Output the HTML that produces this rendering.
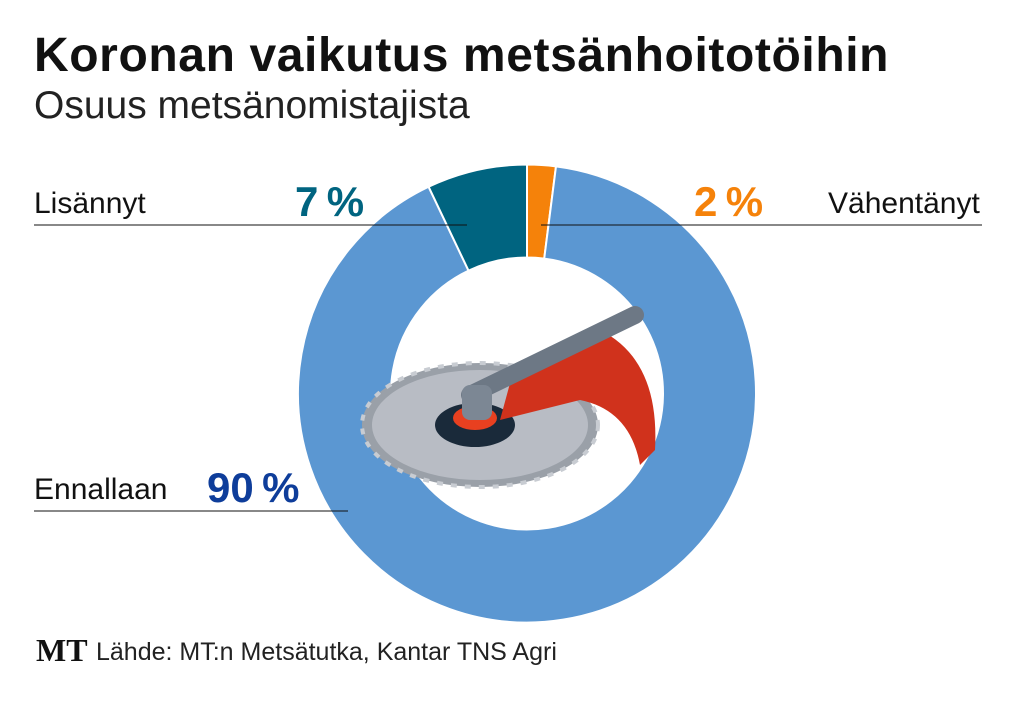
<!DOCTYPE html>
<html><head><meta charset="utf-8"><style>
body{margin:0;width:1019px;height:702px;background:#fff;overflow:hidden;font-family:"Liberation Sans",sans-serif;position:relative}
.t{position:absolute;white-space:nowrap}
</style></head><body>
<div class="t" style="left:34px;top:28px;font-size:48px;font-weight:bold;color:#111;letter-spacing:0.6px">Koronan vaikutus metsänhoitotöihin</div>
<div class="t" style="left:34px;top:84px;font-size:39px;color:#222">Osuus metsänomistajista</div>
<svg id="chart" width="1019" height="702" style="position:absolute;left:0;top:0">
<g id="slices"></g>
<g>
<ellipse cx="480" cy="425" rx="118" ry="62" fill="#9aa0a8" stroke="#c8ccd2" stroke-width="4" stroke-dasharray="6 8"/>
<ellipse cx="480" cy="425" rx="108" ry="55" fill="#b8bcc4"/>
<ellipse cx="475" cy="425" rx="40" ry="22" fill="#1a2a3a"/>
<ellipse cx="475" cy="418" rx="22" ry="12" fill="#e84020"/>
<path d="M515 365 L600 330 Q660 360 655 450 L640 465 Q630 410 580 400 L500 420 Z" fill="#d0321c"/>
<line x1="470" y1="395" x2="635" y2="315" stroke="#6d7885" stroke-width="18" stroke-linecap="round"/>
<rect x="462" y="385" width="30" height="35" rx="8" fill="#7c8794"/>
</g>
<line x1="34" y1="225" x2="467" y2="225" stroke="#111" stroke-width="1"/>
<line x1="541" y1="225" x2="982" y2="225" stroke="#111" stroke-width="1"/>
<line x1="34" y1="511" x2="348" y2="511" stroke="#111" stroke-width="1"/>
</svg>
<div class="t" style="left:34px;top:187px;font-size:30px;color:#111">Lisännyt</div>
<div class="t" style="left:295px;top:178px;font-size:42px;font-weight:bold;color:#006480">7&#8201;%</div>
<div class="t" style="left:694px;top:178px;font-size:42px;font-weight:bold;color:#f5820a">2&#8201;%</div>
<div class="t" style="left:828px;top:187px;font-size:30px;color:#111">Vähentänyt</div>
<div class="t" style="left:34px;top:473px;font-size:30px;color:#111">Ennallaan</div>
<div class="t" style="left:207px;top:464px;font-size:42px;font-weight:bold;color:#0e3d9a">90&#8201;%</div>
<div class="t" style="left:36px;top:632px;font-size:32px;font-weight:bold;font-family:'Liberation Serif',serif;color:#111">MT</div>
<div class="t" style="left:96px;top:638px;font-size:25px;color:#222">Lähde: MT:n Metsätutka, Kantar TNS Agri</div>
<script>
const categories=["Vähentänyt","Ennallaan","Lisännyt"];
const values=[2,90,7];
const colors=["#f5820a","#5b97d2","#006480"];
const cx=527,cy=393.5,R=229,r=136;
const g=document.getElementById('slices');
const total=values.reduce((a,b)=>a+b,0);
let a0=0;
function pt(rad,a){return [cx+rad*Math.sin(a),cy-rad*Math.cos(a)];}
values.forEach((v,i)=>{
  const a1=a0+v/total*2*Math.PI;
  const large=(a1-a0)>Math.PI?1:0;
  const [x0,y0]=pt(R,a0),[x1,y1]=pt(R,a1),[x2,y2]=pt(r,a1),[x3,y3]=pt(r,a0);
  const p=document.createElementNS('http://www.w3.org/2000/svg','path');
  p.setAttribute('d',`M${x0} ${y0} A${R} ${R} 0 ${large} 1 ${x1} ${y1} L${x2} ${y2} A${r} ${r} 0 ${large} 0 ${x3} ${y3} Z`);
  p.setAttribute('fill',colors[i]);
  p.setAttribute('stroke','#fff');
  p.setAttribute('stroke-width','2');
  
  
  g.appendChild(p);
  a0=a1;
});
</script>
</body></html>
